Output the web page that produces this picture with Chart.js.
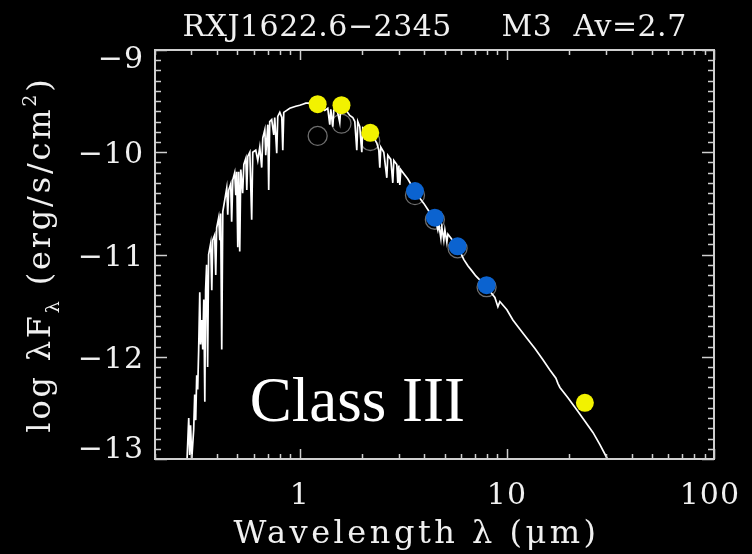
<!DOCTYPE html>
<html><head><meta charset="utf-8">
<script src="https://cdn.jsdelivr.net/npm/chart.js@4.4.1/dist/chart.umd.min.js"></script>
<style>html,body{margin:0;padding:0;background:#000;overflow:hidden}#wrap{width:752px;height:554px}</style>
</head><body><div id="wrap"><canvas id="c" width="752" height="554"></canvas></div>
<script>
// ---- data (wavelength in micron, log lambda F_lambda in erg/s/cm^2) ----
const specWave = [0.285,0.291,0.294,0.297,0.301,0.3075,0.311,0.3145,0.318,0.3215,
0.325,0.329,0.332,0.336,0.340,0.344,0.348,0.351,0.355,0.359,
0.363,0.3715,0.376,0.380,0.388,0.393,0.397,0.406,0.411,0.415,
0.420,0.425,0.434,0.444,0.449,0.454,0.464,0.469,0.475,0.485,
0.491,0.496,0.502,0.507,0.513,0.519,0.530,0.537,0.549,0.555,
0.561,0.574,0.586,0.593,0.613,0.627,0.641,0.655,0.663,0.678,
0.685,0.701,0.708,0.716,0.732,0.749,0.757,0.774,0.783,0.801,
0.819,0.828,0.837,0.865,0.895,0.925,0.957,1.000,1.034,1.069,
1.118,1.169,1.222,1.277,1.321,1.365,1.396,1.412,1.444,1.460,
1.509,1.560,1.578,1.631,1.687,1.744,1.803,1.844,1.885,1.906,
1.949,1.993,2.015,2.084,2.178,2.277,2.355,2.408,2.435,2.462,
2.545,2.632,2.661,2.751,2.813,2.845,2.941,2.974,3.008,3.041,
3.075,3.18,3.32,3.48,3.63,3.80,3.97,4.15,4.34,4.54,
4.64,4.69,4.80,4.85,4.96,5.02,5.13,5.19,5.42,5.67,
5.93,6.20,6.48,6.78,7.08,7.41,7.83,8.28,8.75,9.05,
9.25,10.0,10.69,11.56,12.49,13.66,14.93,16.13,17.25,17.63,
18.03,19.71,21.78,23.82,26.03,28.13,30.42,31.45];
const specFlux = [-13.05,-12.60,-12.96,-12.67,-13.00,-12.71,-12.37,-12.62,-12.18,-12.32,
-11.93,-11.37,-11.88,-11.64,-11.93,-11.44,-12.44,-11.35,-11.10,-12.10,
-11.00,-10.89,-11.35,-10.86,-10.81,-11.20,-10.74,-10.64,-10.86,-10.60,
-11.93,-10.58,-10.47,-10.35,-10.61,-10.37,-10.31,-10.68,-10.27,-10.20,
-10.42,-10.19,-10.93,-10.19,-10.97,-10.17,-10.40,-10.12,-10.06,-10.37,
-10.04,-10.00,-10.66,-10.00,-9.98,-10.08,-9.95,-10.15,-9.86,-9.78,
-10.03,-9.73,-10.37,-9.70,-9.68,-9.83,-9.66,-10.01,-9.65,-9.61,
-9.66,-9.98,-9.61,-9.59,-9.57,-9.56,-9.55,-9.54,-9.53,-9.52,
-9.52,-9.51,-9.52,-9.55,-9.59,-9.57,-9.73,-9.58,-9.75,-9.59,
-9.57,-9.71,-9.56,-9.57,-9.60,-9.64,-9.66,-9.70,-9.98,-9.70,
-9.75,-10.00,-9.76,-9.78,-9.81,-9.86,-9.91,-9.98,-10.15,-9.95,
-10.00,-10.25,-10.03,-10.07,-10.30,-10.08,-10.12,-10.30,-10.13,-10.32,
-10.17,-10.21,-10.26,-10.33,-10.39,-10.45,-10.50,-10.56,-10.62,-10.68,
-10.76,-10.70,-10.84,-10.73,-10.86,-10.76,-10.88,-10.80,-10.85,-10.91,
-10.97,-11.05,-11.11,-11.16,-11.21,-11.25,-11.29,-11.36,-11.42,-11.51,
-11.46,-11.54,-11.64,-11.73,-11.82,-11.92,-12.03,-12.13,-12.21,-12.26,
-12.30,-12.40,-12.52,-12.63,-12.74,-12.86,-12.99,-13.04];

const nirWave = [1.22, 1.59, 2.19];          // J, H, K (dereddened)
const nirFlux = [-9.53, -9.54, -9.81];
const iracWave = [3.6, 4.49, 5.78, 7.98];    // IRAC
const iracFlux = [-10.38, -10.64, -10.92, -11.30];
const mipsWave = [23.8];                      // MIPS 24
const mipsFlux = [-12.45];
const obsWave = [1.22, 1.59, 2.19, 3.6, 4.49, 5.78, 7.98];   // observed (open)
const obsFlux = [-9.84, -9.72, -9.89, -10.42, -10.66, -10.94, -11.32];

const xTickValues = [1, 10, 100];
const xTickLabels = ['1', '10', '100'];
const yTickValues = [-13, -12, -11, -10, -9];
const yTickLabels = ['\u221213', '\u221212', '\u221211', '\u221210', '\u22129'];

const titleParts = ['RXJ1622.6\u22122345', 'M3', 'Av=2.7'];
const xTitle = 'Wavelength \u03bb (\u03bcm)';
const classLabel = 'Class III';

// ---- style ----
const TXT = '"DejaVu Serif", "Liberation Serif", serif';
const SERIF = '"Liberation Serif", "DejaVu Serif", serif';
const YELLOW = '#f2f200';
const BLUE = '#0b63d0';
const AXIS = '#cfcfcf';
const TEXT = '#f0f0f0';

const toPts = (xs, ys) => xs.map((x, i) => ({x: x, y: ys[i]}));

function setFont(c, size, family, ls) {
  c.font = size + 'px ' + family;
  if ('letterSpacing' in c) c.letterSpacing = (ls || 0) + 'px';
}

const decor = {
  id: 'decor',
  beforeDraw(chart) {
    const c = chart.ctx;
    c.save(); c.fillStyle = '#000'; c.fillRect(0, 0, chart.width, chart.height); c.restore();
  },
  afterDraw(chart) {
    const c = chart.ctx, a = chart.chartArea, xs = chart.scales.x, ys = chart.scales.y;
    c.save();
    const seg = (x1, y1, x2, y2) => { c.beginPath(); c.moveTo(x1, y1); c.lineTo(x2, y2); c.stroke(); };
    // frame
    c.strokeStyle = AXIS; c.lineWidth = 2;
    c.strokeRect(a.left, a.top, a.right - a.left, a.bottom - a.top);
    // x ticks (log)
    c.lineWidth = 1.5;
    for (let e = -1; e <= 2; e++) {
      for (let m = 1; m <= 9; m++) {
        const v = m * Math.pow(10, e);
        if (v < xs.min * 0.999 || v > xs.max * 1.001) continue;
        const px = Math.round(xs.getPixelForValue(v)) + 0.5;
        const L = m === 1 ? 10 : 5;
        seg(px, a.bottom, px, a.bottom - L);
        seg(px, a.top, px, a.top + L);
      }
    }
    // y ticks
    for (let k = 0; k <= 40; k++) {
      const v = ys.min + k * 0.1;
      const py = Math.round(ys.getPixelForValue(v)) + 0.5;
      const L = k % 10 === 0 ? 12 : 6;
      seg(a.left, py, a.left + L, py);
      seg(a.right, py, a.right - L, py);
    }
    // tick labels
    c.fillStyle = TEXT;
    c.textBaseline = 'alphabetic';
    setFont(c, 30, TXT, 1);
    c.textAlign = 'center';
    xTickValues.forEach((v, i) => {
      const w = c.measureText(xTickLabels[i]).width;
      let px = xs.getPixelForValue(v);
      px = Math.min(px, chart.width - 12 - w / 2);
      c.fillText(xTickLabels[i], px, a.bottom + 45);
    });
    c.textAlign = 'right';
    yTickValues.forEach((v, i) => {
      let py = ys.getPixelForValue(v);
      py = Math.max(a.top + 7, Math.min(a.bottom - 12, py));
      c.fillText(yTickLabels[i], a.left - 11, py + 11);
    });
    // title
    setFont(c, 30, TXT, 0.5);
    c.textAlign = 'left';
    const cx = (a.left + a.right) / 2;
    c.fillText(titleParts[0], cx - 252, 36);
    c.fillText(titleParts[1], cx + 67, 36);
    c.fillText(titleParts[2], cx + 139, 36);
    // x title
    setFont(c, 32, TXT, 3.5);
    c.textAlign = 'center';
    c.fillText(xTitle, cx - 18, a.bottom + 84);
    // y title with sub/superscripts
    const S = 32, LS = 2.8;
    const parts = [
      {t: 'log \u03bbF', s: S, dy: 0},
      {t: '\u03bb', s: S * 0.6, dy: 0.28 * S},
      {t: ' (erg/s/cm', s: S, dy: 0},
      {t: '2', s: S * 0.6, dy: -0.45 * S},
      {t: ')', s: S, dy: 0}
    ];
    let total = 0;
    parts.forEach(p => { setFont(c, p.s, TXT, LS); p.w = c.measureText(p.t).width; total += p.w; });
    c.translate(50, (a.top + a.bottom) / 2);
    c.rotate(-Math.PI / 2);
    c.textAlign = 'left';
    let xx = -total / 2;
    parts.forEach(p => { setFont(c, p.s, TXT, LS); c.fillText(p.t, xx, p.dy); xx += p.w; });
    c.setTransform(1, 0, 0, 1, 0, 0);
    // class label
    setFont(c, 63, SERIF, 0);
    c.textAlign = 'left';
    c.fillStyle = '#ffffff';
    c.fillText(classLabel, xs.getPixelForValue(0.573), ys.getPixelForValue(-12.63));
    c.restore();
  }
};

new Chart(document.getElementById('c').getContext('2d'), {
  type: 'scatter',
  data: {
    datasets: [
      {label: 'JHK', data: toPts(nirWave, nirFlux), pointRadius: 9, pointBackgroundColor: YELLOW, pointBorderWidth: 0, order: 1},
      {label: 'IRAC', data: toPts(iracWave, iracFlux), pointRadius: 9, pointBackgroundColor: BLUE, pointBorderWidth: 0, order: 1},
      {label: 'MIPS', data: toPts(mipsWave, mipsFlux), pointRadius: 9, pointBackgroundColor: YELLOW, pointBorderWidth: 0, order: 1},
      {type: 'line', label: 'photosphere', data: toPts(specWave, specFlux), borderColor: '#ffffff', borderWidth: 1.7, pointRadius: 0, tension: 0, fill: false, order: 2},
      {label: 'observed', data: toPts(obsWave, obsFlux), pointRadius: 9.5, pointBackgroundColor: 'rgba(0,0,0,0)', pointBorderColor: '#6e6e6e', pointBorderWidth: 1.3, order: 3}
    ]
  },
  options: {
    responsive: false, animation: false, devicePixelRatio: 1,
    layout: {padding: {left: 0, right: 38, top: 50, bottom: 0}},
    plugins: {legend: {display: false}, tooltip: {enabled: false}, title: {display: false}},
    scales: {
      x: {type: 'logarithmic', min: 0.2, max: 100, position: 'bottom',
        grid: {display: false}, border: {display: false},
        ticks: {display: false},
        afterFit: s => { s.height = 95; }},
      y: {type: 'linear', min: -13, max: -9, position: 'left',
        grid: {display: false}, border: {display: false},
        ticks: {display: false},
        afterFit: s => { s.width = 155; }}
    }
  },
  plugins: [decor]
});
</script>
</body></html>
